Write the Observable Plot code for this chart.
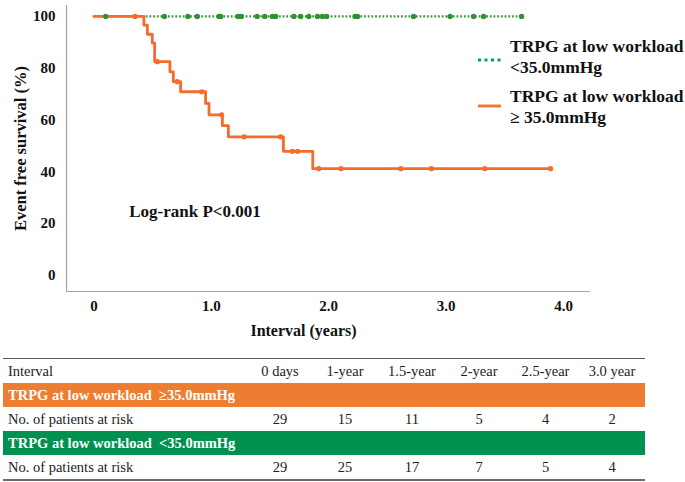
<!DOCTYPE html>
<html>
<head>
<meta charset="utf-8">
<script src="https://cdn.jsdelivr.net/npm/d3@7"></script>
<script src="https://cdn.jsdelivr.net/npm/@observablehq/plot@0.6"></script>
<style>
  html, body { margin: 0; padding: 0; background: #fff; }
  #wrap { position: relative; width: 685px; height: 482px; font-family: "Liberation Serif", "Times New Roman", serif; }
  #chart { position: absolute; left: 0; top: 0; }
  .leg { position: absolute; left: 510px; font-weight: bold; font-size: 17.5px; line-height: 21px; color: #111; white-space: nowrap; }
  .legsym { position: absolute; left: 476px; }
  #table { position: absolute; left: 3px; top: 358px; width: 642px; border-top: 1.5px solid #5a5a5a; border-bottom: 2px solid #6e6e6e; font-size: 14.5px; color: #222; }
  .row { display: grid; grid-template-columns: 245px 64px 66px 68px 66px 67px 66px; height: 24px; align-items: center; }
  .row div { text-align: center; }
  .row div:first-child { text-align: left; padding-left: 5px; }
  .band { display: flex; align-items: center; height: 24px; color: #fff; font-weight: bold; padding-left: 5px; white-space: pre; }
</style>
</head>
<body>
<div id="wrap">
  <div id="chart"></div>
  <svg class="legsym" style="top:55px" width="30" height="10"><line x1="2" x2="26" y1="5" y2="5" stroke="#00a050" stroke-width="3" stroke-dasharray="3,3.5"/></svg>
  <div class="leg" style="top:36px">TRPG at low workload<br>&lt;35.0mmHg</div>
  <svg class="legsym" style="top:101px" width="30" height="10"><line x1="2" x2="25" y1="5" y2="5" stroke="#f07a35" stroke-width="3"/></svg>
  <div class="leg" style="top:86px">TRPG at low workload<br>≥ 35.0mmHg</div>
  <div id="table"></div>
</div>
<script>
// ---- data ----
const xTicks = [0, 1, 2, 3, 4];
const yTicks = [0, 20, 40, 60, 80, 100];

// TRPG >= 35.0 mmHg: step curve (time in years, survival %)
const highTimes = [0, 0.425, 0.455, 0.497, 0.517, 0.647, 0.676, 0.738, 0.951, 0.98, 1.094, 1.145, 1.614, 1.864, 3.89];
const highSurv  = [100, 96.6, 93.1, 89.7, 82.5, 78.6, 74.8, 70.9, 66.4, 62.0, 57.8, 53.5, 47.9, 41.2, 41.2];
const highCensor = [0.35, 0.54, 0.71, 0.917, 1.088, 1.28, 1.59, 1.69, 1.735, 1.915, 2.105, 2.614, 2.875, 3.33, 3.89];

// TRPG < 35.0 mmHg: no events
const lowTimes = [0, 3.643];
const lowSurv = [100, 100];
const lowCensor = [0.10, 0.60, 0.80, 0.88, 1.065, 1.08, 1.227, 1.256, 1.39, 1.455, 1.52, 1.548, 1.704, 1.761, 1.83, 1.904, 1.946, 1.983, 2.224, 2.245, 2.722, 3.034, 3.234, 3.319, 3.643];

const annotations = [{t: 0.3, s: 24.6, label: "Log-rank P<0.001"}];

// risk table
const tableHeaders = ["0 days", "1-year", "1.5-year", "2-year", "2.5-year", "3.0 year"];
const highLabel = "TRPG at low workload  ≥35.0mmHg";
const lowLabel = "TRPG at low workload  <35.0mmHg";
const highAtRisk = [29, 15, 11, 5, 4, 2];
const lowAtRisk = [29, 25, 17, 7, 5, 4];

// ---- build ----
const highData = highTimes.map((t, i) => ({t, s: highSurv[i]}));
const lowData = lowTimes.map((t, i) => ({t, s: lowSurv[i]}));
function survAt(t) {
  let s = highSurv[0];
  for (let i = 0; i < highTimes.length; i++) if (highTimes[i] <= t) s = highSurv[i];
  return s;
}
const highCensorData = highCensor.map(t => ({t, s: survAt(t)}));
const lowCensorData = lowCensor.map(t => ({t, s: 100}));

const xDomain = [-0.234, 4.23];
const yDomain = [-6.2, 104.2];
const orange = "#f36c2c";
const green = "#2f9132";

const plot = Plot.plot({
  width: 685,
  height: 350,
  marginLeft: 66,
  marginRight: 95,
  marginTop: 5,
  marginBottom: 59,
  x: {domain: xDomain},
  y: {domain: yDomain},
  style: {fontFamily: "Liberation Serif, Times New Roman, serif", fontWeight: "bold", fontSize: "15px", color: "#111", background: "#fff"},
  marks: [
    Plot.axisX({ticks: xTicks, tickSize: 0, tickPadding: 9, label: null, tickFormat: d => d === 0 ? "0" : d.toFixed(1), fontSize: 15}),
    Plot.axisY({ticks: yTicks, tickSize: 0, tickPadding: 11, label: null, fontSize: 15}),
    Plot.ruleY([yDomain[0]], {stroke: "#a6a6a6", strokeWidth: 1.2}),
    Plot.ruleX([xDomain[0]], {stroke: "#a6a6a6", strokeWidth: 1.2}),
    Plot.line(lowData, {x: "t", y: "s", stroke: green, strokeWidth: 2.4, strokeDasharray: "1.7,2", strokeLinecap: "butt"}),
    Plot.line(highData, {x: "t", y: "s", curve: "step-after", stroke: orange, strokeWidth: 2.8}),
    Plot.dot(highCensorData, {x: "t", y: "s", r: 2.6, fill: orange, stroke: "none"}),
    Plot.dot(lowCensorData, {x: "t", y: "s", r: 2.7, fill: green, stroke: "none"}),
    Plot.text(annotations, {x: "t", y: "s", text: "label", textAnchor: "start", fontSize: 17, fontWeight: "bold", fill: "#111"}),
    Plot.text(["Event free survival (%)"], {frameAnchor: "left", rotate: -90, dx: -46, textAnchor: "middle", lineAnchor: "middle", fontSize: 16.5, fontWeight: "bold", fill: "#111"}),
    Plot.text(["Interval (years)"], {frameAnchor: "bottom", dx: -25, dy: 39, textAnchor: "middle", lineAnchor: "middle", fontSize: 16, fontWeight: "bold", fill: "#111"})
  ]
});
document.getElementById("chart").appendChild(plot);

// table
const tbl = document.getElementById("table");
function addRow(label, values) {
  const r = document.createElement("div");
  r.className = "row";
  const c0 = document.createElement("div");
  c0.textContent = label;
  r.appendChild(c0);
  values.forEach(v => { const c = document.createElement("div"); c.textContent = v; r.appendChild(c); });
  tbl.appendChild(r);
}
function addBand(label, color) {
  const b = document.createElement("div");
  b.className = "band";
  b.style.background = color;
  b.textContent = label;
  tbl.appendChild(b);
}
addRow("Interval", tableHeaders);
addBand(highLabel, "#ed7d31");
addRow("No. of patients at risk", highAtRisk);
addBand(lowLabel, "#00904f");
addRow("No. of patients at risk", lowAtRisk);
</script>
</body>
</html>
